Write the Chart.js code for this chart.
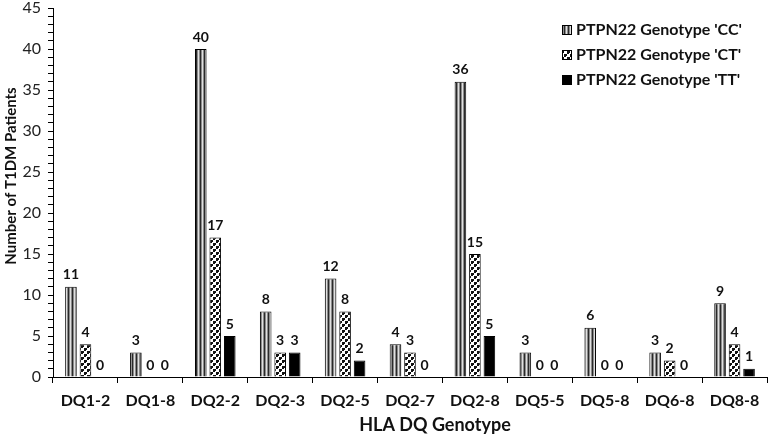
<!DOCTYPE html>
<html>
<head>
<meta charset="utf-8">
<script src="https://cdn.jsdelivr.net/npm/chart.js@4.4.1/dist/chart.umd.min.js"></script>
<style>
  body { margin: 0; background: #fff; }
  #wrap { width: 771px; height: 439px; }
</style>
</head>
<body>
<div id="wrap"><canvas id="dq-chart" width="771" height="439"></canvas></div>
<script>
/* -------- DATA -------- */
const genotypes = ["DQ1-2", "DQ1-8", "DQ2-2", "DQ2-3", "DQ2-5", "DQ2-7", "DQ2-8", "DQ5-5", "DQ5-8", "DQ6-8", "DQ8-8"];
const seriesNames = ["PTPN22 Genotype 'CC'", "PTPN22 Genotype 'CT'", "PTPN22 Genotype 'TT'"];
const ccCounts = [11, 3, 40, 8, 12, 4, 36, 3, 6, 3, 9];
const ctCounts = [4, 0, 17, 3, 8, 3, 15, 0, 0, 2, 4];
const ttCounts = [0, 0, 5, 3, 2, 0, 5, 0, 0, 0, 1];

const FONT = "Lato, 'Open Sans', sans-serif";

/* -------- PATTERNS -------- */
// vertical stripes for 'CC'
function stripePattern() {
    const c = document.createElement("canvas");
    c.width = 4; c.height = 4;
    const g = c.getContext("2d");
    g.fillStyle = "#8c8c8c"; g.fillRect(0, 0, 4, 4);
    g.fillStyle = "#2a2a2a"; g.fillRect(0, 0, 1, 4);
    g.fillStyle = "#e0e0e0"; g.fillRect(2, 0, 1, 4);
    return g.createPattern(c, "repeat");
}

// dotted pattern for 'CT'
function dotPattern() {
    const c = document.createElement("canvas");
    c.width = 6; c.height = 6;
    const g = c.getContext("2d");
    g.fillStyle = "#fff"; g.fillRect(0, 0, 6, 6);
    g.fillStyle = "#111";
    g.fillRect(0, 0, 3, 2);
    g.fillRect(0, 0, 2, 3);
    g.fillRect(3, 3, 3, 2);
    g.fillRect(3, 3, 2, 3);
    return g.createPattern(c, "repeat");
}

const fills = [stripePattern(), dotPattern(), "#000"];

/* -------- PLUGINS -------- */
// value labels above every bar, zeros included
const valueLabels = {
    id: "valueLabels",
    afterDatasetsDraw(chart) {
        const ctx = chart.ctx;
        ctx.save();
        ctx.font = "bold 14px " + FONT;
        ctx.fillStyle = "#111";
        ctx.textAlign = "center";
        ctx.textBaseline = "bottom";
        chart.data.datasets.forEach((ds, i) => {
            chart.getDatasetMeta(i).data.forEach((bar, j) => {
                ctx.fillText(String(ds.data[j]), bar.x, bar.y - 5);
            });
        });
        ctx.restore();
    }
};

// legend column in the top right + axis titles
const extras = {
    id: "extras",
    afterDraw(chart) {
        const ctx = chart.ctx;
        ctx.save();
        ctx.font = "bold 16px " + FONT;
        ctx.textBaseline = "middle";
        ctx.textAlign = "left";
        const ys = [30, 55, 80];
        chart.data.datasets.forEach((ds, i) => {
            const bx = 562, by = ys[i] - 5;
            ctx.fillStyle = ds.backgroundColor;
            ctx.fillRect(bx, by, 10, 10);
            ctx.strokeStyle = "#000";
            ctx.lineWidth = 1;
            ctx.strokeRect(bx + 0.5, by + 0.5, 9, 9);
            ctx.fillStyle = "#111";
            ctx.fillText(ds.label, 576, ys[i]);
        });
        ctx.font = "bold 18px " + FONT;
        ctx.textAlign = "center";
        ctx.fillText("HLA DQ Genotype", 435, 425);

        ctx.translate(11, 176);
        ctx.rotate(-Math.PI / 2);
        ctx.font = "bold 15px " + FONT;
        ctx.fillText("Number of T1DM Patients", 0, 0);
        ctx.restore();
    }
};

/* -------- CHART -------- */
document.addEventListener("DOMContentLoaded", () => {
    const ctx = document.getElementById("dq-chart").getContext("2d");
    const counts = [ccCounts, ctCounts, ttCounts];
    new Chart(ctx, {
        type: "bar",
        data: {
            labels: genotypes,
            datasets: counts.map((arr, i) => ({
                label: seriesNames[i],
                data: arr,
                backgroundColor: fills[i],
                borderColor: "#000",
                borderWidth: 1,
                categoryPercentage: 0.67,
                barPercentage: 0.8
            }))
        },
        options: {
            responsive: false,
            animation: false,
            layout: { padding: { top: 8, right: 4, left: 0, bottom: 0 } },
            plugins: {
                legend: { display: false },
                tooltip: { enabled: false }
            },
            scales: {
                x: {
                    afterFit(scale) { scale.height = 62; },
                    border: { color: "#000", width: 1 },
                    grid: { offset: true, drawOnChartArea: false, tickLength: 6, color: "#000" },
                    ticks: { color: "#111", padding: 8, font: { family: FONT, size: 16, weight: "bold" }, maxRotation: 0 }
                },
                y: {
                    min: 0,
                    max: 45,
                    afterFit(scale) {
                        scale.width = 53;
                        scale.paddingTop = 0;
                        scale.paddingBottom = 0;
                    },
                    border: { color: "#000", width: 1 },
                    grid: { drawOnChartArea: false, tickLength: 5, color: "#000" },
                    ticks: {
                        stepSize: 1,
                        autoSkip: false,
                        color: "#222",
                        padding: 7,
                        font: { family: FONT, size: 16, lineHeight: 1 },
                        callback: (v) => (v % 5 === 0 ? v : "")
                    }
                }
            }
        },
        plugins: [valueLabels, extras]
    });
});
</script>
</body>
</html>
